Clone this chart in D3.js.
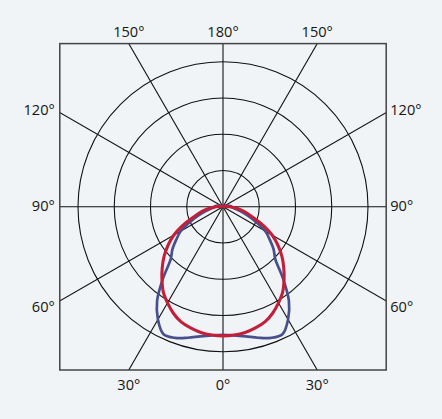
<!DOCTYPE html>
<html>
<head>
<title>Polar light distribution</title>
<script src="https://d3js.org/d3.v7.min.js"></script>
</head>
<body>
</body>
<style>
body { margin: 0; background: #f1f4f6; }
text { font-family: "Open Sans", sans-serif; font-size: 14.6px; fill: #141414; }
</style>
<script>

// angle from nadir (0 = straight down), one half of each plane, mirrored for the other half
var angles = [0,5,10,15,20,25,30,35,40,45,50,55,60,65,70,75,80,85,90,95,100,105,110];
var redValues = [356,355,352,346,338,324,306,287,262,237,212,185,157,124,91,69,50,33,19,11,6,2,0];
var blueValues = [353,356,363,374,385,388,359,317,257,204,182,157,135,102,74,52,36,28,22,22,17,8,0];

var ringValues = [100,200,300,400];
var spokeAngles = [0,30,60,90,120,150,180,210,240,270,300,330];
// angle, label text, side of the box, vertical nudge
var tickLabels = [
	{a: 180, t: "180°", side: "top", dy: 0},
	{a: 150, t: "150°", side: "top", dy: 0},
	{a: 210, t: "150°", side: "top", dy: 0},
	{a: 0, t: "0°", side: "bottom", dy: 0},
	{a: 30, t: "30°", side: "bottom", dy: 0},
	{a: 330, t: "30°", side: "bottom", dy: 0},
	{a: 120, t: "120°", side: "left", dy: -3},
	{a: 90, t: "90°", side: "left", dy: -1},
	{a: 60, t: "60°", side: "left", dy: 5.5},
	{a: 240, t: "120°", side: "right", dy: -3},
	{a: 270, t: "90°", side: "right", dy: -1},
	{a: 300, t: "60°", side: "right", dy: 5.5}
];

var W = 442, H = 419;
var cx = 223, cy = 206.8, half = 163.2;

var svg = d3.select("body").append("svg").attr("width", W).attr("height", H);

var r = d3.scaleLinear().domain([0, 400]).range([0, 145]);
var rad = function(deg){ return deg * Math.PI / 180; };

// angle measured from straight down
function px(a, v){ return cx - r(v) * Math.sin(rad(a)); }
function py(a, v){ return cy + r(v) * Math.cos(rad(a)); }

svg.append("clipPath").attr("id", "box")
	.append("rect").attr("x", cx - half).attr("y", cy - half)
	.attr("width", half * 2).attr("height", half * 2);

var g = svg.append("g").attr("clip-path", "url(#box)");

g.selectAll("circle.ring").data(ringValues).enter().append("circle")
	.attr("class", "ring")
	.attr("cx", cx).attr("cy", cy)
	.attr("r", function(d){ return r(d); })
	.style("fill", "none").style("stroke", "#111").style("stroke-width", 1.1);

g.selectAll("line.spoke").data(spokeAngles).enter().append("line")
	.attr("class", "spoke")
	.attr("x1", cx).attr("y1", cy)
	.attr("x2", function(d){ return px(d, 1000); })
	.attr("y2", function(d){ return py(d, 1000); })
	.style("stroke", "#111").style("stroke-width", 1.1);

// curves, mirrored about the vertical axis
function mirrored(values){
	var pts = [];
	for (var i = angles.length - 1; i > 0; i--) pts.push({a: -angles[i], v: values[i]});
	for (var j = 0; j < angles.length; j++) pts.push({a: angles[j], v: values[j]});
	return pts;
}

var line = d3.line()
	.x(function(d){ return cx + r(d.v) * Math.sin(rad(d.a)); })
	.y(function(d){ return cy + r(d.v) * Math.cos(rad(d.a)); })
	.curve(d3.curveCatmullRom.alpha(0.5));

g.append("path").datum(mirrored(blueValues))
	.attr("d", line)
	.style("fill", "none").style("stroke", "#474f8d").style("stroke-width", 2.7)
	.style("stroke-linejoin", "round");

g.append("path").datum(mirrored(redValues))
	.attr("d", line)
	.style("fill", "none").style("stroke", "#c21f3b").style("stroke-width", 3.1)
	.style("stroke-linejoin", "round");

svg.append("rect")
	.attr("x", cx - half).attr("y", cy - half)
	.attr("width", half * 2).attr("height", half * 2)
	.style("fill", "none").style("stroke", "#444").style("stroke-width", 1.5);

// where a spoke meets the box
function hit(a){
	var dx = -Math.sin(rad(a)), dy = Math.cos(rad(a));
	var t = Math.min(Math.abs(dx) > 1e-9 ? half / Math.abs(dx) : Infinity,
		Math.abs(dy) > 1e-9 ? half / Math.abs(dy) : Infinity);
	return [cx + dx * t, cy + dy * t];
}

svg.selectAll("text.tick").data(tickLabels).enter().append("text")
	.attr("class", "tick")
	.attr("x", function(d){
		var p = hit(d.a);
		if (d.side == "left") return cx - half - 5;
		if (d.side == "right") return cx + half + 4;
		return p[0];
	})
	.attr("y", function(d){
		var p = hit(d.a);
		if (d.side == "top") return cy - half - 6.5;
		if (d.side == "bottom") return cy + half + 19.5;
		return p[1] + d.dy + 5.3;
	})
	.attr("text-anchor", function(d){
		if (d.side == "left") return "end";
		if (d.side == "right") return "start";
		return "middle";
	})
	.text(function(d){ return d.t; });

</script>
</html>
